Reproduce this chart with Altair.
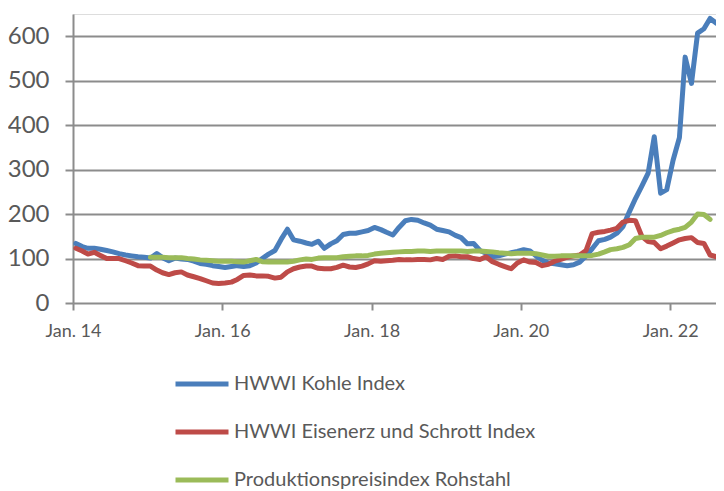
import altair as alt
import pandas as pd

# Month categories: Jan 2014 .. Aug 2022 (monthly, 104 points)
months = pd.date_range("2014-01-01", periods=104, freq="MS") + pd.Timedelta(days=14)

series_names = [
    "HWWI Kohle Index",
    "HWWI Eisenerz und Schrott Index",
    "Produktionspreisindex Rohstahl",
]
series_colors = ["#4A7EBB", "#BE4B48", "#9BBB59"]

kohle = [
    134, 127, 123, 123, 121, 118, 115, 111, 108, 106, 104, 103,
    101, 111, 102, 95, 101, 99, 98, 94, 89, 87, 84, 82,
    80, 82, 84, 82, 84, 90, 100, 110, 118, 143, 166, 142,
    139, 135, 132, 139, 123, 133, 140, 154, 157, 157, 160, 163,
    170, 165, 159, 153, 170, 185, 188, 186, 180, 175, 166, 163,
    160, 152, 147, 133, 134, 118, 112, 104, 106, 110, 113, 116,
    120, 117, 106, 96, 90, 88, 86, 84, 86, 92, 106, 122,
    140, 143, 148, 157, 172, 205, 235, 263, 292, 374, 247, 255,
    321, 372, 553, 494, 607, 617, 640, 629,
]

eisen = [
    123, 117, 110, 114, 107, 100, 100, 100, 95, 90, 84, 83,
    83, 74, 68, 64, 68, 70, 63, 59, 55, 50, 45, 44,
    45, 47, 53, 62, 63, 61, 61, 60, 56, 58, 70, 77,
    81, 83, 83, 78, 77, 77, 80, 85, 81, 80, 83, 88,
    95, 94, 95, 96, 98, 97, 97, 98, 98, 97, 100, 98,
    105, 106, 104, 104, 100, 98, 104, 93, 87, 82, 77, 90,
    97, 92, 91, 84, 87, 94, 98, 103, 106, 108, 118, 156,
    159, 161, 164, 168, 182, 186, 185, 150, 138, 136, 122, 128,
    135, 142, 145, 147, 136, 134, 108, 104,
]

# Produktionspreisindex starts Jan 2015 and ends Jul 2022
rohstahl = [None] * 12 + [
    103, 103, 103, 102, 102, 102, 100, 99, 97, 96, 95, 94,
    94, 94, 93, 92, 95, 98, 93, 92, 92, 92, 92, 94,
    97, 99, 98, 101, 102, 102, 102, 104, 105, 106, 106, 107,
    110, 112, 113, 114, 115, 116, 116, 117, 117, 116, 117, 117,
    117, 117, 117, 116, 117, 117, 116, 115, 113, 112, 111, 112,
    112, 112, 111, 108, 105, 105, 106, 106, 106, 106, 106, 107,
    110, 115, 120, 122, 125, 131, 145, 148, 148, 148, 152, 158,
    163, 166, 170, 182, 200, 199, 188, None,
]

y_ticks = [0, 100, 200, 300, 400, 500, 600]
x_tick_years = [2014, 2016, 2018, 2020, 2022]

rows = []
for name, vals in zip(series_names, [kohle, eisen, rohstahl]):
    for d, v in zip(months, vals):
        if v is not None:
            rows.append({"Monat": d, "Serie": name, "Wert": v})
df = pd.DataFrame(rows)

FONT = "Lato"
TEXT = "#595959"
GRID = "#8C8C8C"

chart = (
    alt.Chart(df)
    .mark_line(strokeWidth=5, strokeCap="round", strokeJoin="round", clip=True)
    .encode(
        x=alt.X(
            "Monat:T",
            title=None,
            scale=alt.Scale(
                domain=[
                    alt.DateTime(year=2014, month=1, date=1),
                    alt.DateTime(year=2022, month=8, date=13),
                ]
            ),
            axis=alt.Axis(
                values=[alt.DateTime(year=y, month=1, date=1) for y in x_tick_years],
                labelExpr="'Jan. ' + timeFormat(datum.value, '%y')",
                grid=False,
                domain=False,
                ticks=True,
                tickSize=7,
                tickColor=GRID,
                tickWidth=2,
                labelFont=FONT,
                labelFontSize=18,
                labelColor=TEXT,
                labelPadding=12,
                labelFlush=False,
            ),
        ),
        y=alt.Y(
            "Wert:Q",
            title=None,
            scale=alt.Scale(domain=[0, 650], nice=False),
            axis=alt.Axis(
                values=y_ticks,
                grid=True,
                gridColor=GRID,
                gridWidth=2,
                domain=True,
                domainColor=GRID,
                domainWidth=2,
                tickSize=8,
                tickColor=GRID,
                tickWidth=2,
                labelFont=FONT,
                labelFontSize=24,
                labelColor=TEXT,
                labelPadding=16,
            ),
        ),
        color=alt.Color(
            "Serie:N",
            sort=series_names,
            scale=alt.Scale(domain=series_names, range=series_colors),
            legend=alt.Legend(
                title=None,
                orient="none",
                legendX=100,
                legendY=341,
                direction="vertical",
                symbolType="stroke",
                symbolSize=2809,
                symbolStrokeWidth=5,
                labelFont=FONT,
                labelFontSize=20,
                labelColor=TEXT,
                labelOffset=3,
                labelLimit=600,
                rowPadding=9,
                padding=0,
            ),
        ),
    )
    .properties(
        width=643,
        height=289,
        autosize=alt.AutoSizeParams(type="none"),
        padding={"left": 65, "top": 6, "right": 0, "bottom": 187},
    )
    .configure_view(stroke=None)
    .configure(background="white")
)

chart.save("out.html", embed_options={"renderer": "svg", "actions": False})
